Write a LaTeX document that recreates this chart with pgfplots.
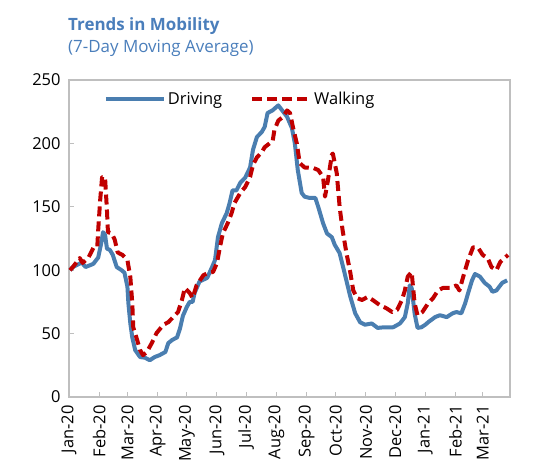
\documentclass[border=0pt]{standalone}
\usepackage{pgfplots}
\pgfplotsset{compat=1.18}
\usepackage{fontspec}
\setmainfont{Open Sans}
\definecolor{drv}{RGB}{74,126,176}
\definecolor{wlk}{RGB}{192,0,0}
\definecolor{ttl}{RGB}{74,126,187}
\definecolor{frm}{RGB}{191,191,191}
\begin{document}
\begin{tikzpicture}
\useasboundingbox (-69bp,-77bp) rectangle (465bp,397bp);
\node[anchor=base west, inner sep=0pt, text=ttl, font=\fontsize{17}{20}\selectfont\bfseries] at (-1bp,366bp) {Trends in Mobility};
\node[anchor=base west, inner sep=0pt, text=ttl, font=\fontsize{17}{20}\selectfont] at (-1bp,344bp) {(7-Day Moving Average)};
\begin{axis}[at={(0,0)}, anchor=south west, scale only axis,
  width=441bp, height=317bp,
  xmin=0, xmax=453, ymin=0, ymax=250,
  ytick={0,50,...,250},
  xtick={0,31,60,91,121,152,182,213,244,274,305,335,366,397,425},
  xticklabels={Jan-20,Feb-20,Mar-20,Apr-20,May-20,Jun-20,Jul-20,Aug-20,Sep-20,Oct-20,Nov-20,Dec-20,Jan-21,Feb-21,Mar-21},
  x tick label style={rotate=90, anchor=east, xshift=-5bp},
  y tick label style={xshift=-5bp},
  /pgf/number format/assume math mode=true,
  tick label style={font=\fontsize{16.5}{18}\selectfont},
  axis line style={frm, line width=1.5bp},
  tick style={frm, line width=1bp},
  major tick length=5bp, tick align=inside,
  xtick pos=bottom, ytick pos=left,
  legend style={at={(0.388,0.975)}, anchor=north, draw=none, fill=none,
    legend columns=2, font=\fontsize{16.5}{18}\selectfont,
    /tikz/every even column/.append style={column sep=26bp},
    /tikz/every odd column/.append style={column sep=0bp}},
  legend image code/.code={\draw[#1] (0bp,0bp) -- (58bp,0bp);},
  clip=false]
\addplot[drv, line width=4bp, line join=round] table {
x y
1 100
4 102.5
13 106
17 102.5
25 105
30 110
33 121
35 130
37 128
39 117
42 116
45 112
49 102.5
54 100
57 98
60 87
61 74
63 58
65 47
68 37
73 31.5
78 31
83 29
88 31.5
93 33
99 35.5
102 42.5
106 45
111 47
114 54
117 64
121 71
124 75
127 75
129 82
134 91
142 94
147 102.5
150 108
153 126
157 137
162 145
165 153
168 163
172 163
176 169
181 173
186 181
189 195
193 205
198 209
201 213
204 224
209 226
215 230
219 226
224 221
229 212
232 200
235 179
239 161
242 158
247 157
253 157
256 150
261 137
265 129
270 126
273 120
278 113.5
283 98
289 79
294 66
299 59
304 57
311 58
317 54.5
324 55
333 55
340 58
345 63
348 74
350 88
352 86
355 66
358 54.5
362 55
366 57
369 59
376 63
381 64.5
388 63
394 66
398 67
403 66
407 74
410 82
414 92
417 97
422 95
427 90
432 87
435 83
439 84
445 90
450 92
};
\addlegendentry{Driving}
\addplot[wlk, line width=4bp, dash pattern=on 10bp off 5bp, line join=round] table {
x y
1 100
4 102.5
11 109.6
14 105.7
20 110
25 117.5
29 118
30 131.7
32 155
34 173.5
37 173.5
39 147
40 130
44 129
47 124
50 114
55 112
60 108
63 94.6
65 74
66 55
70 45
73 37
76 33
80 35.5
85 42.5
90 50.5
97 57
102 59
107 63
112 67
116 76.5
119 86
124 82
127 78
131 88
138 96
143 98
148 98.6
152 105.7
155 118
158 129
163 137
167 145
170 153
176 161
181 165.6
186 173.5
189 183
193 189
198 193
201 197
206 200
209 201
211 210.6
215 218
220 221
224 226
227 224
230 213
234 200
237 184.5
242 181
251 180.6
256 179
261 173.5
263 158
266 171
270 191
271 192
275 176.7
278 150
281 131.7
285 113.5
289 98
292 84
296 78
301 76.5
307 79
312 76.5
319 72.6
326 70
332 67
337 68.6
342 76.5
345 84
348 95
352 98.6
353 90
355 74
358 64.5
363 67
369 74
374 78
379 84
384 86
391 86
398 88
401 84
405 95
410 108
415 118
420 118
425 112
430 109.6
434 102.5
439 100
443 106.5
448 110
451 112
};
\addlegendentry{Walking}
\end{axis}
\end{tikzpicture}
\end{document}
